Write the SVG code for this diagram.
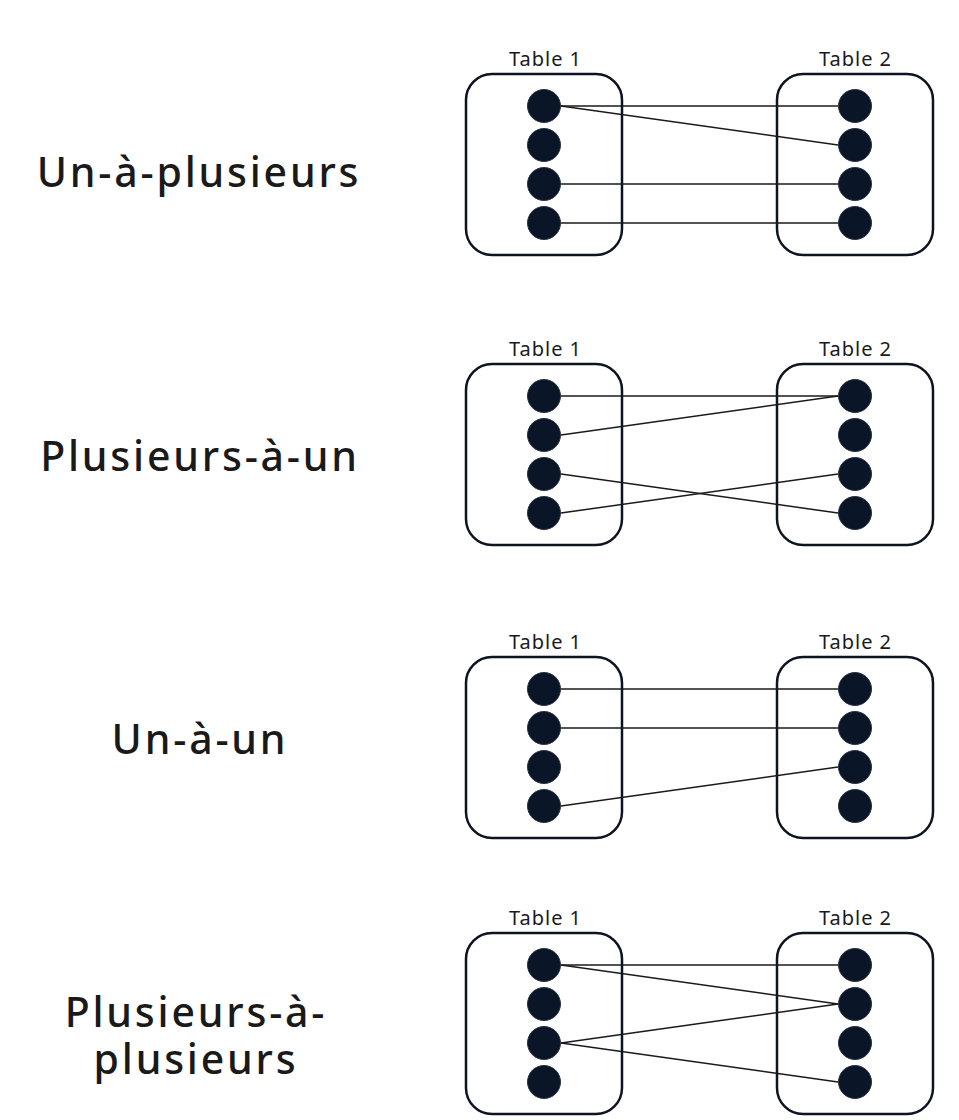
<svg xmlns="http://www.w3.org/2000/svg" width="959" height="1120" viewBox="0 0 959 1120">
<style>
.title{font-family:"Noto Sans","Liberation Sans",sans-serif;font-size:41px;font-weight:500;letter-spacing:2.8px;fill:#1a1a1a;text-anchor:middle}
.tl{font-family:"Noto Sans","Liberation Sans",sans-serif;font-size:20px;letter-spacing:1px;fill:#1a1a1a;text-anchor:middle}
.box{fill:#fff;stroke:#0d1321;stroke-width:2.5}
.dot{fill:#0a1628;stroke:#2a3344;stroke-width:1}
.link{stroke:#1a1a1a;stroke-width:1.5;fill:none}
</style>
<rect width="959" height="1120" fill="#fff"/>
<defs>
<g id="tables">
<rect class="box" x="466" y="0" width="156" height="181" rx="26"/>
<rect class="box" x="777" y="0" width="156" height="181" rx="26"/>
<text class="tl" x="545.5" y="-8">Table 1</text>
<text class="tl" x="855.5" y="-8">Table 2</text>
</g>
<g id="dots">
<circle class="dot" cx="544" cy="32" r="16.5"/>
<circle class="dot" cx="544" cy="71" r="16.5"/>
<circle class="dot" cx="544" cy="110" r="16.5"/>
<circle class="dot" cx="544" cy="149" r="16.5"/>
<circle class="dot" cx="855" cy="32" r="16.5"/>
<circle class="dot" cx="855" cy="71" r="16.5"/>
<circle class="dot" cx="855" cy="110" r="16.5"/>
<circle class="dot" cx="855" cy="149" r="16.5"/>
</g>
</defs>
<g id="section1">
<text class="title" x="199" y="187">Un-à-plusieurs</text>
<use href="#tables" y="74"/>
</g>
<g id="section2">
<text class="title" x="200" y="471">Plusieurs-à-un</text>
<use href="#tables" y="364"/>
</g>
<g id="section3">
<text class="title" x="200" y="754">Un-à-un</text>
<use href="#tables" y="657"/>
</g>
<g id="section4">
<text class="title" x="196" y="1027">Plusieurs-à-</text>
<text class="title" x="196" y="1074">plusieurs</text>
<use href="#tables" y="933"/>
</g>
<g id="connectors">
<line class="link" x1="561" y1="106" x2="838" y2="106"/>
<line class="link" x1="561" y1="106" x2="838" y2="145"/>
<line class="link" x1="561" y1="184" x2="838" y2="184"/>
<line class="link" x1="561" y1="223" x2="838" y2="223"/>

<line class="link" x1="561" y1="396" x2="838" y2="396"/>
<line class="link" x1="561" y1="435" x2="838" y2="396"/>
<line class="link" x1="561" y1="474" x2="838" y2="513"/>
<line class="link" x1="561" y1="513" x2="838" y2="474"/>

<line class="link" x1="561" y1="689" x2="838" y2="689"/>
<line class="link" x1="561" y1="728" x2="838" y2="728"/>
<line class="link" x1="561" y1="806" x2="838" y2="767"/>

<line class="link" x1="561" y1="965" x2="838" y2="965"/>
<line class="link" x1="561" y1="965" x2="838" y2="1004"/>
<line class="link" x1="561" y1="1043" x2="838" y2="1004"/>
<line class="link" x1="561" y1="1043" x2="838" y2="1082"/>
</g>
<use href="#dots" y="74"/>
<use href="#dots" y="364"/>
<use href="#dots" y="657"/>
<use href="#dots" y="933"/>
</svg>
